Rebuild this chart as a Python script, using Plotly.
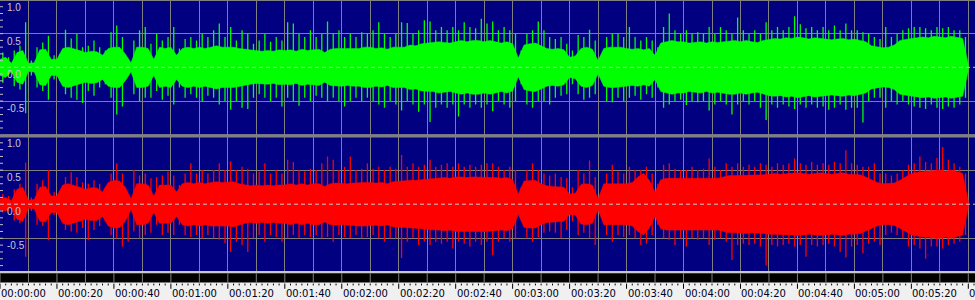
import plotly.graph_objects as go

# ---------------- data ----------------
# envelope of the dense part of the waveform, sampled every 2 s (t = 0..340)
body_t = list(range(0, 341, 2))
# tallest spike in each 2-s slot, centred on odd seconds (t = 1..339)
spike_t = list(range(1, 340, 2))

g_body = [0.12, 0.15, 0.06, 0.22, 0.25, 0.06, 0.07, 0.26, 0.27, 0.12,
          0.12, 0.28, 0.30, 0.28, 0.25, 0.22, 0.24, 0.23, 0.18, 0.28,
          0.30, 0.30, 0.20, 0.07, 0.30, 0.30, 0.28, 0.12, 0.30, 0.28,
          0.30, 0.18, 0.28, 0.30, 0.28, 0.30, 0.28, 0.30, 0.32, 0.30,
          0.30, 0.30, 0.28, 0.27, 0.25, 0.24, 0.24, 0.25, 0.24, 0.26,
          0.25, 0.26, 0.24, 0.27, 0.25, 0.26, 0.27, 0.22, 0.27, 0.28,
          0.28, 0.27, 0.28, 0.28, 0.30, 0.30, 0.28, 0.29, 0.27, 0.30,
          0.30, 0.30, 0.33, 0.32, 0.35, 0.36, 0.36, 0.38, 0.37, 0.36,
          0.38, 0.40, 0.38, 0.40, 0.40, 0.38, 0.40, 0.38, 0.36, 0.38,
          0.35, 0.14, 0.33, 0.35, 0.36, 0.32, 0.28, 0.27, 0.28, 0.26,
          0.15, 0.17, 0.28, 0.30, 0.27, 0.10, 0.28, 0.30, 0.30, 0.30,
          0.28, 0.27, 0.28, 0.26, 0.28, 0.18, 0.36, 0.38, 0.40, 0.38,
          0.38, 0.36, 0.37, 0.38, 0.36, 0.38, 0.37, 0.38, 0.40, 0.40,
          0.38, 0.40, 0.38, 0.37, 0.40, 0.42, 0.43, 0.42, 0.44, 0.43,
          0.45, 0.44, 0.42, 0.44, 0.43, 0.42, 0.41, 0.42, 0.43, 0.41,
          0.42, 0.40, 0.38, 0.32, 0.30, 0.29, 0.30, 0.33, 0.40, 0.42,
          0.43, 0.44, 0.45, 0.44, 0.46, 0.45, 0.44, 0.46, 0.45, 0.43,
          0.05]

g_up = [0.22, 0.15, 0.25, 0.32, 0.67, 0.10, 0.30, 0.37, 0.47, 0.18,
        0.20, 0.56, 0.43, 0.50, 0.30, 0.32, 0.40, 0.30, 0.25, 0.52,
        0.62, 0.45, 0.12, 0.40, 0.55, 0.60, 0.35, 0.50, 0.40, 0.45,
        0.60, 0.28, 0.42, 0.45, 0.40, 0.50, 0.45, 0.55, 0.65, 0.45,
        0.60, 0.40, 0.55, 0.50, 0.35, 0.40, 0.50, 0.38, 0.45, 0.40,
        0.67, 0.65, 0.50, 0.45, 0.55, 0.45, 0.50, 0.68, 0.50, 0.55,
        0.45, 0.50, 0.45, 0.52, 0.50, 0.55, 0.67, 0.50, 0.45, 0.50,
        0.67, 0.66, 0.50, 0.55, 0.70, 0.68, 0.55, 0.60, 0.55, 0.60,
        0.55, 0.67, 0.60, 0.58, 0.72, 0.65, 0.68, 0.55, 0.60, 0.55,
        0.50, 0.25, 0.50, 0.55, 0.68, 0.55, 0.45, 0.42, 0.45, 0.35,
        0.25, 0.48, 0.45, 0.56, 0.40, 0.15, 0.45, 0.50, 0.50, 0.45,
        0.60, 0.45, 0.40, 0.45, 0.40, 0.30, 0.60, 0.80, 0.55, 0.50,
        0.55, 0.50, 0.52, 0.50, 0.60, 0.50, 0.60, 0.55, 0.50, 0.74,
        0.55, 0.50, 0.55, 0.50, 0.67, 0.55, 0.60, 0.55, 0.60, 0.76,
        0.64, 0.58, 0.60, 0.55, 0.60, 0.55, 0.62, 0.55, 0.65, 0.55,
        0.55, 0.52, 0.50, 0.45, 0.42, 0.60, 0.45, 0.50, 0.55, 0.58,
        0.60, 0.60, 0.58, 0.55, 0.60, 0.58, 0.60, 0.55, 0.55, 0.45]

g_dn = [-0.23, -0.12, -0.28, -0.33, -0.68, -0.12, -0.30, -0.35, -0.48, -0.18,
        -0.20, -0.40, -0.45, -0.48, -0.53, -0.35, -0.42, -0.30, -0.25, -0.45,
        -0.70, -0.58, -0.12, -0.40, -0.50, -0.45, -0.45, -0.35, -0.48, -0.42,
        -0.55, -0.30, -0.45, -0.40, -0.45, -0.50, -0.42, -0.45, -0.55, -0.50,
        -0.63, -0.50, -0.60, -0.62, -0.45, -0.40, -0.45, -0.50, -0.45, -0.58,
        -0.45, -0.50, -0.57, -0.45, -0.50, -0.42, -0.45, -0.50, -0.45, -0.50,
        -0.58, -0.50, -0.45, -0.50, -0.45, -0.50, -0.55, -0.60, -0.50, -0.55,
        -0.64, -0.50, -0.55, -0.66, -0.55, -0.81, -0.60, -0.55, -0.60, -0.55,
        -0.73, -0.55, -0.60, -0.55, -0.60, -0.55, -0.65, -0.50, -0.55, -0.60,
        -0.50, -0.25, -0.55, -0.60, -0.50, -0.50, -0.55, -0.45, -0.42, -0.40,
        -0.25, -0.40, -0.48, -0.45, -0.40, -0.15, -0.50, -0.52, -0.45, -0.50,
        -0.45, -0.42, -0.48, -0.40, -0.45, -0.30, -0.60, -0.55, -0.50, -0.48,
        -0.56, -0.50, -0.52, -0.50, -0.64, -0.55, -0.50, -0.55, -0.70, -0.55,
        -0.50, -0.55, -0.50, -0.60, -0.78, -0.55, -0.60, -0.55, -0.58, -0.62,
        -0.55, -0.60, -0.55, -0.60, -0.58, -0.63, -0.60, -0.55, -0.63, -0.60,
        -0.60, -0.82, -0.50, -0.45, -0.45, -0.60, -0.50, -0.55, -0.50, -0.55,
        -0.58, -0.60, -0.62, -0.55, -0.60, -0.62, -0.58, -0.60, -0.55, -0.45]

r_body = [0.08, 0.10, 0.05, 0.22, 0.25, 0.06, 0.07, 0.25, 0.26, 0.12,
          0.12, 0.28, 0.30, 0.28, 0.25, 0.22, 0.24, 0.24, 0.18, 0.32,
          0.35, 0.34, 0.25, 0.08, 0.30, 0.30, 0.28, 0.12, 0.28, 0.28,
          0.28, 0.18, 0.30, 0.32, 0.30, 0.32, 0.30, 0.32, 0.33, 0.32,
          0.32, 0.33, 0.30, 0.28, 0.27, 0.28, 0.27, 0.28, 0.27, 0.28,
          0.28, 0.30, 0.28, 0.30, 0.28, 0.30, 0.30, 0.26, 0.30, 0.31,
          0.30, 0.30, 0.31, 0.32, 0.32, 0.32, 0.31, 0.32, 0.30, 0.33,
          0.34, 0.34, 0.35, 0.35, 0.36, 0.37, 0.38, 0.38, 0.39, 0.38,
          0.40, 0.40, 0.39, 0.40, 0.40, 0.40, 0.40, 0.39, 0.38, 0.39,
          0.36, 0.15, 0.34, 0.35, 0.35, 0.30, 0.27, 0.26, 0.26, 0.25,
          0.15, 0.16, 0.29, 0.30, 0.28, 0.08, 0.30, 0.30, 0.30, 0.30,
          0.30, 0.32, 0.40, 0.45, 0.35, 0.18, 0.36, 0.38, 0.38, 0.37,
          0.38, 0.37, 0.38, 0.37, 0.38, 0.38, 0.38, 0.40, 0.42, 0.42,
          0.42, 0.43, 0.42, 0.42, 0.43, 0.44, 0.45, 0.44, 0.45, 0.45,
          0.46, 0.45, 0.44, 0.45, 0.46, 0.45, 0.44, 0.45, 0.46, 0.44,
          0.44, 0.43, 0.40, 0.36, 0.32, 0.30, 0.30, 0.31, 0.35, 0.40,
          0.45, 0.47, 0.48, 0.48, 0.50, 0.50, 0.48, 0.50, 0.48, 0.45,
          0.05]

r_up = [0.15, 0.12, 0.22, 0.30, 0.61, 0.10, 0.30, 0.35, 0.50, 0.18,
        0.20, 0.40, 0.47, 0.40, 0.32, 0.30, 0.35, 0.30, 0.25, 0.45,
        0.60, 0.45, 0.12, 0.50, 0.42, 0.45, 0.38, 0.40, 0.42, 0.48,
        0.42, 0.28, 0.45, 0.60, 0.45, 0.50, 0.45, 0.50, 0.60, 0.50,
        0.63, 0.50, 0.55, 0.52, 0.45, 0.48, 0.60, 0.45, 0.50, 0.45,
        0.65, 0.62, 0.50, 0.48, 0.52, 0.50, 0.60, 0.70, 0.65, 0.50,
        0.55, 0.70, 0.50, 0.52, 0.60, 0.52, 0.55, 0.50, 0.55, 0.52,
        0.72, 0.55, 0.60, 0.55, 0.58, 0.65, 0.55, 0.58, 0.60, 0.55,
        0.60, 0.55, 0.58, 0.55, 0.58, 0.60, 0.60, 0.55, 0.50, 0.55,
        0.50, 0.25, 0.50, 0.60, 0.50, 0.45, 0.42, 0.45, 0.40, 0.38,
        0.25, 0.50, 0.45, 0.64, 0.40, 0.12, 0.45, 0.58, 0.48, 0.45,
        0.55, 0.50, 0.50, 0.55, 0.45, 0.30, 0.58, 0.60, 0.52, 0.50,
        0.50, 0.55, 0.50, 0.52, 0.67, 0.55, 0.50, 0.60, 0.55, 0.60,
        0.55, 0.58, 0.55, 0.60, 0.58, 0.55, 0.60, 0.58, 0.60, 0.67,
        0.60, 0.58, 0.62, 0.58, 0.60, 0.58, 0.62, 0.60, 0.79, 0.60,
        0.58, 0.55, 0.55, 0.60, 0.45, 0.45, 0.42, 0.45, 0.50, 0.58,
        0.60, 0.70, 0.62, 0.60, 0.68, 0.84, 0.65, 0.60, 0.55, 0.45]

r_dn = [-0.12, -0.10, -0.24, -0.28, -0.77, -0.10, -0.30, -0.32, -0.53, -0.16,
        -0.20, -0.38, -0.40, -0.42, -0.35, -0.53, -0.38, -0.32, -0.25, -0.45,
        -0.50, -0.62, -0.55, -0.40, -0.50, -0.45, -0.42, -0.30, -0.45, -0.42,
        -0.45, -0.30, -0.45, -0.48, -0.45, -0.50, -0.45, -0.50, -0.52, -0.57,
        -0.70, -0.55, -0.60, -0.70, -0.50, -0.45, -0.55, -0.45, -0.48, -0.55,
        -0.50, -0.45, -0.50, -0.45, -0.48, -0.45, -0.50, -0.48, -0.55, -0.45,
        -0.48, -0.50, -0.45, -0.50, -0.48, -0.45, -0.50, -0.55, -0.50, -0.50,
        -0.79, -0.55, -0.50, -0.60, -0.55, -0.60, -0.55, -0.58, -0.55, -0.65,
        -0.55, -0.58, -0.62, -0.55, -0.60, -0.55, -0.75, -0.55, -0.50, -0.55,
        -0.50, -0.22, -0.50, -0.55, -0.48, -0.42, -0.40, -0.42, -0.50, -0.38,
        -0.25, -0.45, -0.42, -0.50, -0.60, -0.12, -0.45, -0.55, -0.45, -0.48,
        -0.45, -0.50, -0.60, -0.58, -0.45, -0.30, -0.50, -0.52, -0.60, -0.50,
        -0.62, -0.50, -0.52, -0.50, -0.60, -0.52, -0.50, -0.55, -0.82, -0.60,
        -0.58, -0.60, -0.58, -0.62, -0.90, -0.60, -0.62, -0.60, -0.58, -0.62,
        -0.60, -0.77, -0.60, -0.62, -0.60, -0.58, -0.62, -0.70, -0.78, -0.62,
        -0.60, -0.72, -0.58, -0.55, -0.60, -0.45, -0.42, -0.45, -0.50, -0.62,
        -0.60, -0.65, -0.80, -0.62, -0.62, -0.65, -0.60, -0.58, -0.55, -0.45]

# axis / ruler text
y_label_vals = [1.0, 0.5, 0.0, -0.5]
y_label_text = ["1.0", "0.5", "0.0", "-0.5"]
y_grid_vals = [-1.0, -0.5, 0.5, 1.0]
y_minor_vals = [-0.9, -0.8, -0.7, -0.6, -0.4, -0.3, -0.2, -0.1,
                0.1, 0.2, 0.3, 0.4, 0.6, 0.7, 0.8, 0.9]
ruler_label_t = [0, 20, 40, 60, 80, 100, 120, 140, 160, 180, 200,
                 220, 240, 260, 280, 300, 320, 340]
ruler_labels = ["00:00:00", "00:00:20", "00:00:40", "00:01:00", "00:01:20",
                "00:01:40", "00:02:00", "00:02:20", "00:02:40", "00:03:00",
                "00:03:20", "00:03:40", "00:04:00", "00:04:20", "00:04:40",
                "00:05:00", "00:05:20", "00:05:40"]
ruler_minor_t = list(range(0, 343, 2))
grid_t = list(range(0, 350, 10))

# ---------------- styling ----------------
W, H = 975, 300
PX_PER_S = 2.848
X_MAX = W / PX_PER_S
NAVY = "#000080"
GRID = "#808080"


def py(p):
    """pixel row -> paper fraction"""
    return 1 - p / H


fig = go.Figure()
channels = [
    (g_body, g_up, g_dn, "#00ff00", "x", "y"),
    (r_body, r_up, r_dn, "#ff0000", "x2", "y2"),
]
for body, up, dn, col, xa, ya in channels:
    poly_x = body_t + body_t[::-1]
    poly_y = body + [-v for v in body[::-1]]
    fig.add_trace(go.Scatter(x=poly_x, y=poly_y, mode="lines", fill="toself",
                             fillcolor=col, line=dict(width=0.5, color=col),
                             xaxis=xa, yaxis=ya, hoverinfo="skip",
                             showlegend=False))
    sx, sy = [], []
    for t, lo, hi in zip(spike_t, dn, up):
        sx += [t, t, None]
        sy += [lo, hi, None]
    fig.add_trace(go.Scatter(x=sx, y=sy, mode="lines",
                             line=dict(width=1.3, color=col),
                             xaxis=xa, yaxis=ya, hoverinfo="skip",
                             showlegend=False))

xcommon = dict(range=[0, X_MAX], showgrid=True, gridcolor=GRID, gridwidth=1,
               tick0=0, dtick=10, showticklabels=False, ticks="",
               zeroline=False, showline=False, fixedrange=True)
ycommon = dict(range=[-1, 1], tickmode="array", tickvals=y_grid_vals,
               showgrid=True, gridcolor=GRID, gridwidth=1,
               showticklabels=False, ticks="", zeroline=False,
               showline=False, fixedrange=True)

shapes = []
# top border line
shapes.append(dict(type="rect", xref="paper", yref="paper", x0=0, x1=1,
                   y0=py(1), y1=1, fillcolor=GRID, line=dict(width=0)))
# separator between channels
shapes.append(dict(type="rect", xref="paper", yref="paper", x0=0, x1=1,
                   y0=py(137.5), y1=py(134.3), fillcolor=GRID,
                   line=dict(width=0)))
# light line and black band above the ruler
shapes.append(dict(type="rect", xref="paper", yref="paper", x0=0, x1=1,
                   y0=py(273.3), y1=py(271), fillcolor="#c8c8c8",
                   line=dict(width=0)))
shapes.append(dict(type="rect", xref="paper", yref="paper", x0=0, x1=1,
                   y0=py(282.6), y1=py(273.3), fillcolor="#000000",
                   line=dict(width=0)))
for t in grid_t:
    shapes.append(dict(type="line", xref="x", yref="paper", x0=t, x1=t,
                       y0=py(282.6), y1=py(273.3),
                       line=dict(color=GRID, width=1)))
# dashed centre lines
for yr in ["y", "y2"]:
    shapes.append(dict(type="line", xref="paper", yref=yr, x0=0, x1=1,
                       y0=0, y1=0, layer="above",
                       line=dict(color="#c8c8c8", width=1, dash="4px,3px")))
    for v in y_minor_vals + [0.5, -0.5]:
        shapes.append(dict(type="line", xref="paper", yref=yr, x0=0,
                           x1=3 / W, y0=v, y1=v, layer="above",
                           line=dict(color="#c0c0c0", width=1)))
# ruler ticks
for t in ruler_minor_t:
    bottom = 288.8 if t % 20 == 0 else 285.4
    shapes.append(dict(type="line", xref="x", yref="paper", x0=t, x1=t,
                       y0=py(bottom), y1=py(283.6),
                       line=dict(color="#000000", width=1)))

annotations = []
for yr in ["y", "y2"]:
    for v, txt in zip(y_label_vals, y_label_text):
        annotations.append(dict(xref="paper", yref=yr, x=0, y=v, text=txt,
                                xanchor="left", yanchor="middle", xshift=5,
                                yshift=-7.5, showarrow=False,
                                font=dict(family="Liberation Sans", size=10,
                                          color="#c8c8d4")))
for t, txt in zip(ruler_label_t, ruler_labels):
    annotations.append(dict(xref="x", yref="paper", x=t, y=py(293.5),
                            text=txt, xanchor="left", yanchor="middle",
                            xshift=-1, showarrow=False,
                            font=dict(family="DejaVu Sans", size=10,
                                      color="#000020")))

fig.update_layout(
    width=W, height=H, margin=dict(l=0, r=0, t=0, b=0),
    paper_bgcolor="#f0f0f0", plot_bgcolor=NAVY,
    showlegend=False,
    xaxis=dict(**xcommon, anchor="y", domain=[0, 1]),
    yaxis=dict(**ycommon, anchor="x", domain=[py(134.7), 1]),
    xaxis2=dict(**xcommon, anchor="y2", domain=[0, 1]),
    yaxis2=dict(**ycommon, anchor="x2", domain=[py(272.4), py(136)]),
    shapes=shapes, annotations=annotations,
)

fig.write_html("out.html", config={"displayModeBar": False})
